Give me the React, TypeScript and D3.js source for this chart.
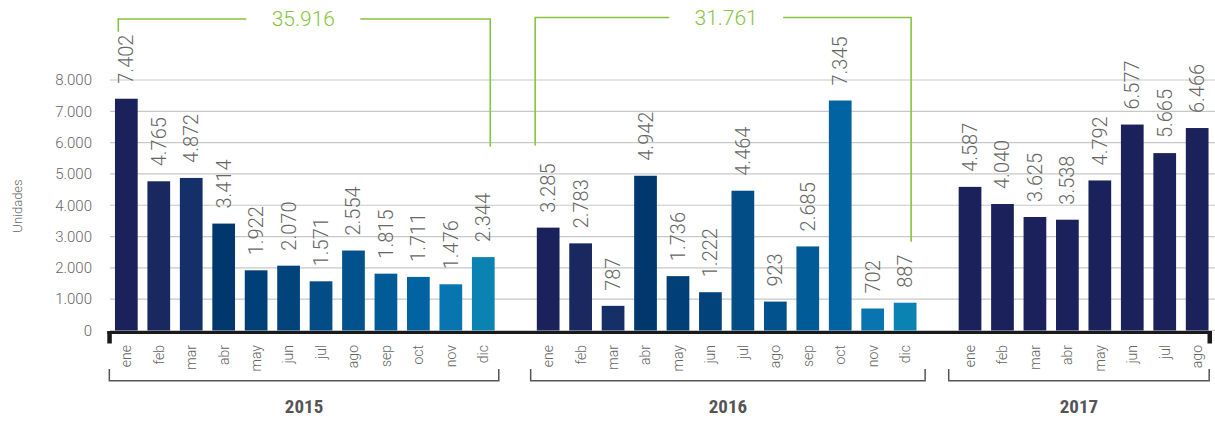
import React from "react";
import * as d3 from "d3";

const months2015 = ["ene", "feb", "mar", "abr", "may", "jun", "jul", "ago", "sep", "oct", "nov", "dic"];
const values2015 = [7402, 4765, 4872, 3414, 1922, 2070, 1571, 2554, 1815, 1711, 1476, 2344];
const months2016 = ["ene", "feb", "mar", "abr", "may", "jun", "jul", "ago", "sep", "oct", "nov", "dic"];
const values2016 = [3285, 2783, 787, 4942, 1736, 1222, 4464, 923, 2685, 7345, 702, 887];
const months2017 = ["ene", "feb", "mar", "abr", "may", "jun", "jul", "ago"];
const values2017 = [4587, 4040, 3625, 3538, 4792, 6577, 5665, 6466];
const years = ["2015", "2016", "2017"];
const yTicks = [0, 1000, 2000, 3000, 4000, 5000, 6000, 7000, 8000];
const monthColors = [
  "#1b215a", "#19285f", "#152f68", "#00386e", "#003f77", "#02437c",
  "#034d87", "#02528d", "#005b96", "#0263a3", "#0874b0", "#0a82b2",
];
const color2017 = "#1b215a";

const W = 1215;
const H = 421;

const locale = d3.formatLocale({ decimal: ",", thousands: ".", grouping: [3], currency: ["", "€"] });
const fmt = locale.format(",d");

type Bar = { slot: number; month: string; value: number; color: string; year: string };

const groups = [
  { year: years[0], months: months2015, values: values2015, colors: monthColors },
  { year: years[1], months: months2016, values: values2016, colors: monthColors },
  { year: years[2], months: months2017, values: values2017, colors: months2017.map(() => color2017) },
];

const bars: Bar[] = [];
const groupSlots: { year: string; first: number; last: number; total: number }[] = [];
{
  let slot = 0;
  groups.forEach((g) => {
    const first = slot;
    g.months.forEach((m, i) => {
      bars.push({ slot, month: m, value: g.values[i], color: g.colors[i], year: g.year });
      slot++;
    });
    groupSlots.push({ year: g.year, first, last: slot - 1, total: d3.sum(g.values) });
    slot++; // gap between years
  });
}
const nSlots = bars[bars.length - 1].slot + 1;

const x = d3
  .scaleBand<number>()
  .domain(d3.range(nSlots))
  .range([110.1, 1213.4])
  .paddingInner(0.3)
  .paddingOuter(0.15);
const y = d3.scaleLinear().domain([0, 8000]).range([330.5, 80]);

const cx = (s: number) => (x(s) as number) + x.bandwidth() / 2;

const lightFont = "Roboto, 'Liberation Sans', Arial, sans-serif";
const green = "#86c440";
const textGray = "#666";

export default function App() {
  const totalBrackets = [
    { g: groupSlots[0], yTop: 19, leftDx: -8, rightDx: 7, leftBottom: 31.7, rightBottom: 146.7, shift: -1 },
    { g: groupSlots[1], yTop: 17.5, leftDx: -13, rightDx: 6, leftBottom: 145.5, rightBottom: 241.7, shift: 3 },
  ];
  const bottomBrackets = [
    { g: groupSlots[0], l: -17, r: 15.5 },
    { g: groupSlots[1], l: -17.5, r: 20 },
    { g: groupSlots[2], l: -21.3, r: 12 },
  ];
  return (
    <svg
      width={W}
      height={H}
      style={{ position: "absolute", left: 0, top: 0, background: "#fff" }}
      fontFamily={lightFont}
    >
      {yTicks.map((t) => (
        <line key={"g" + t} x1={110} x2={W} y1={y(t)} y2={y(t)} stroke="#c8c8c8" strokeWidth={1.2} />
      ))}
      {yTicks.map((t) => (
        <text
          key={"t" + t}
          x={92}
          y={y(t)}
          dy="0.35em"
          textAnchor="end"
          fontSize={15}
          fontWeight={300}
          fill={textGray}
        >
          {fmt(t)}
        </text>
      ))}
      <text
        transform={`translate(17,206) rotate(-90)`}
        textAnchor="middle"
        dy="0.35em"
        fontSize={13}
        fontWeight={300}
        fill={textGray}
      >
        Unidades
      </text>

      {bars.map((b) => (
        <rect
          key={"b" + b.slot}
          x={x(b.slot)}
          y={y(b.value)}
          width={x.bandwidth()}
          height={y(0) - y(b.value)}
          fill={b.color}
        />
      ))}

      {bars.map((b) => (
        <text
          key={"v" + b.slot}
          transform={`translate(${cx(b.slot)},${y(b.value) - 15}) rotate(-90)`}
          dy="0.35em"
          textAnchor="start"
          fontSize={20}
          fontWeight={300}
          fill={textGray}
        >
          {fmt(b.value)}
        </text>
      ))}

      <line x1={107.5} x2={1212} y1={332.5} y2={332.5} stroke="#1a1a1a" strokeWidth={3} />
      <rect x={107.3} y={331} width={4.5} height={12.5} fill="#1a1a1a" />
      <rect x={1207.5} y={331} width={4.5} height={12.5} fill="#1a1a1a" />

      {bars.map((b) => (
        <text
          key={"m" + b.slot}
          transform={`translate(${cx(b.slot)},345) rotate(-90)`}
          dy="0.35em"
          textAnchor="end"
          fontSize={14}
          fontWeight={300}
          fill={textGray}
        >
          {b.month}
        </text>
      ))}

      {bottomBrackets.map(({ g, l, r }) => {
        const x0 = cx(g.first) + l;
        const x1 = cx(g.last) + r;
        return (
          <g key={"yb" + g.year}>
            <path
              d={`M${x0},369 V380.7 H${x1} V369`}
              fill="none"
              stroke="#555"
              strokeWidth={1.5}
            />
            <text
              x={(x0 + x1) / 2}
              y={413}
              textAnchor="middle"
              fontFamily="'Liberation Sans Narrow', 'Roboto Condensed', 'Arial Narrow', sans-serif"
              fontWeight={700}
              fontSize={19}
              fill="#555"
            >
              {g.year}
            </text>
          </g>
        );
      })}

      {totalBrackets.map(({ g, yTop, leftDx, rightDx, leftBottom, rightBottom, shift }) => {
        const x0 = cx(g.first) + leftDx;
        const x1 = cx(g.last) + rightDx;
        const mid = (x0 + x1) / 2 + shift;
        const gap = 57;
        return (
          <g key={"tb" + g.year}>
            <path
              d={`M${x0},${leftBottom} V${yTop} H${mid - gap}`}
              fill="none"
              stroke={green}
              strokeWidth={1.6}
            />
            <path
              d={`M${mid + gap},${yTop} H${x1} V${rightBottom}`}
              fill="none"
              stroke={green}
              strokeWidth={1.6}
            />
            <text
              x={mid}
              y={yTop}
              dy="0.35em"
              textAnchor="middle"
              fontSize={21}
              fontWeight={300}
              fill={green}
            >
              {fmt(g.total)}
            </text>
          </g>
        );
      })}
    </svg>
  );
}
